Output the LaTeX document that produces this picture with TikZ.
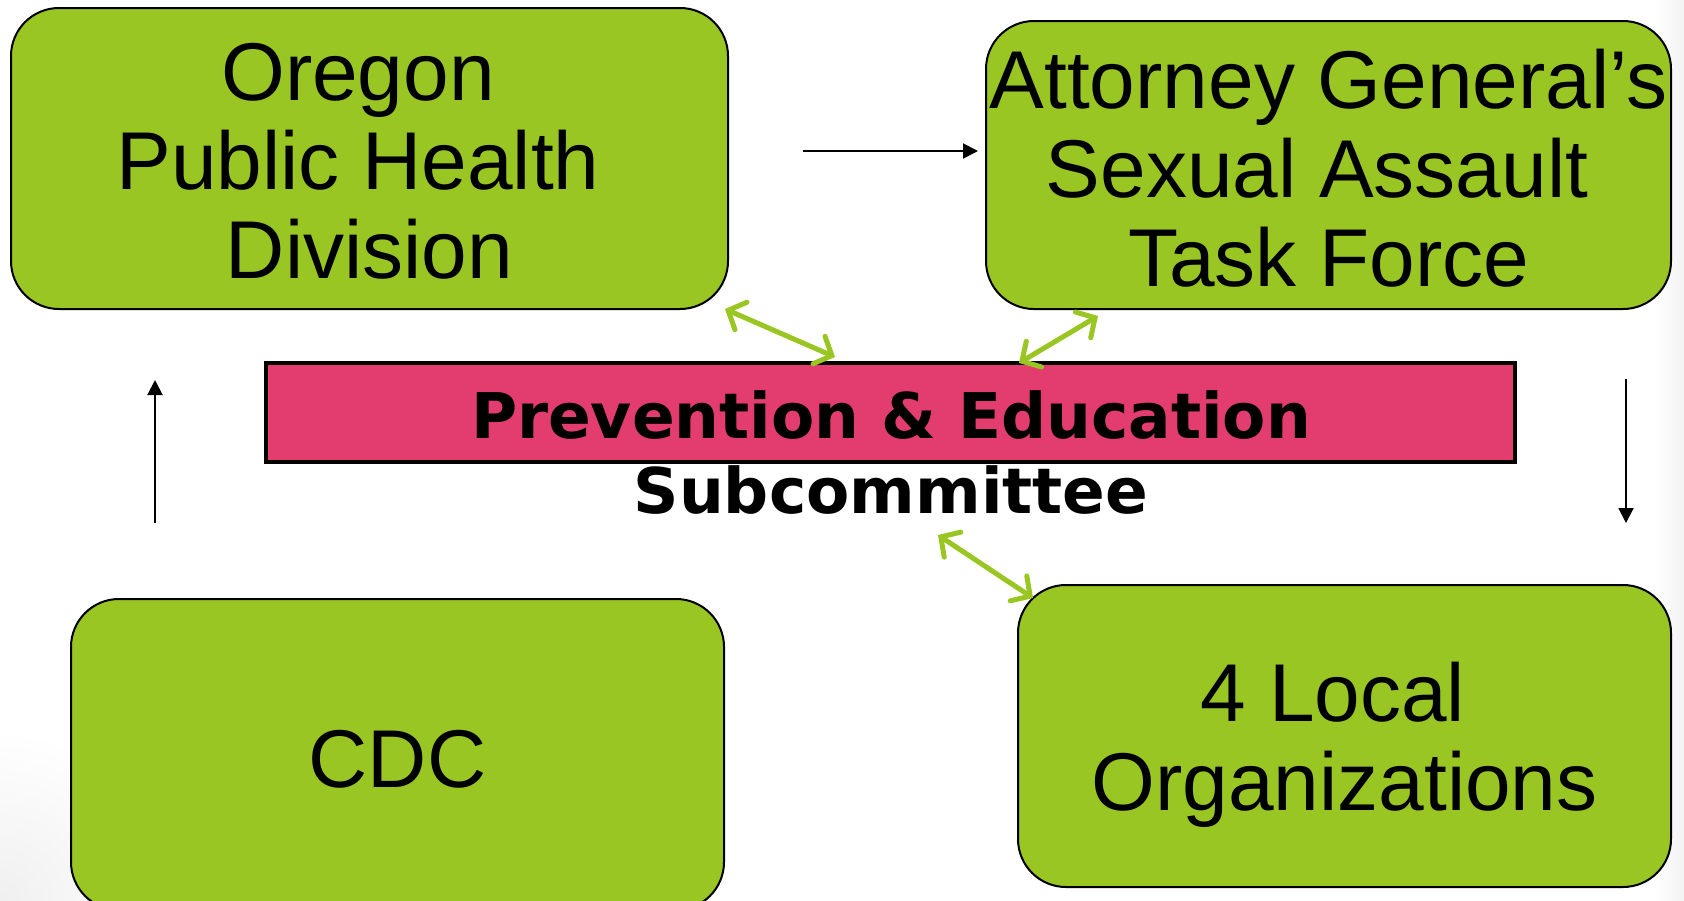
\documentclass[tikz,border=0pt]{standalone}
\usepackage{fontspec}
\setmainfont{Liberation Sans}
\newfontfamily\dvs{DejaVu Sans}
\usetikzlibrary{arrows.meta}
\definecolor{boxgreen}{RGB}{153,198,34}
\definecolor{pinkbar}{RGB}{227,61,111}
\tikzset{
  gbox/.style={draw=black, line width=2pt, fill=boxgreen, rounded corners=48pt, inner sep=0pt},
  boxtext/.style={align=center, inner sep=0pt, font=\fontsize{82}{89}\selectfont},
  blackarrow/.style={line width=2pt, -{Triangle[length=15pt,width=15pt]}},
  greenarrow/.style={draw=boxgreen, line width=5pt,
    {Straight Barb[length=14pt,width=30pt,line cap=round]}-{Straight Barb[length=14pt,width=30pt,line cap=round]}},
  bartext/.style={font=\dvs\bfseries\fontsize{63}{75}\selectfont, anchor=base, inner sep=0pt}
}
\newcommand{\trsp}{\hspace*{23pt}\null}
\begin{document}
\begin{tikzpicture}[x=1pt,y=-1pt]
\useasboundingbox (0,0) rectangle (1684,900);
\fill[white] (0,0) rectangle (1684,900);
\shade[left color=white, right color=black!5] (1655,0) rectangle (1684,900);
\begin{scope}
\clip (0,0) rectangle (1684,900);
\shade[inner color=black!6, outer color=white] (0,900) circle (170);
\end{scope}
% boxes
\node[gbox, minimum width=717pt, minimum height=301pt] (oph) at (369.5,158.5) {};
\node[gbox, minimum width=685pt, minimum height=288pt] (ag) at (1328.5,165) {};
\node[gbox, minimum width=653pt, minimum height=311pt] (cdc) at (397.5,754.5) {};
\node[gbox, minimum width=653pt, minimum height=302pt] (loc) at (1344.5,736) {};
\node[boxtext] (ophT) at (369.5,161.5) {Oregon\trsp\\Public Health\trsp\\Division};
\node[boxtext] (agT) at (1328.5,168) {Attorney General’s\\Sexual Assault\trsp\\Task Force};
\node[boxtext] (cdcT) at (397.5,759.5) {CDC};
\node[boxtext] (locT) at (1344.5,745) {4 Local\trsp\\Organizations};
% pink bar
\node[draw=black, line width=3.5pt, fill=pinkbar, minimum width=1249pt, minimum height=99pt, inner sep=0pt] (bar) at (890.5,412.5) {};
\node[bartext] (prev) at (891,438) {Prevention \& Education};
\node[bartext] (sub) at (891,513) {Subcommittee};
% black arrows
\coordinate (r1) at (803,151); \coordinate (r2) at (978,151);
\coordinate (u1) at (155,523); \coordinate (u2) at (155,380);
\coordinate (d1) at (1626,379); \coordinate (d2) at (1626,523);
\draw[blackarrow] (r1) -- (r2);
\draw[blackarrow] (u1) -- (u2);
\draw[blackarrow] (d1) -- (d2);
% green arrows
\coordinate (ga1) at (725,309); \coordinate (ga2) at (835,357);
\coordinate (gb1) at (1098,316); \coordinate (gb2) at (1019,363);
\coordinate (gc1) at (938,535); \coordinate (gc2) at (1033,598);
\draw[greenarrow] (ga1) -- (ga2);
\draw[greenarrow] (gb1) -- (gb2);
\draw[greenarrow] (gc1) -- (gc2);
\end{tikzpicture}
\end{document}
